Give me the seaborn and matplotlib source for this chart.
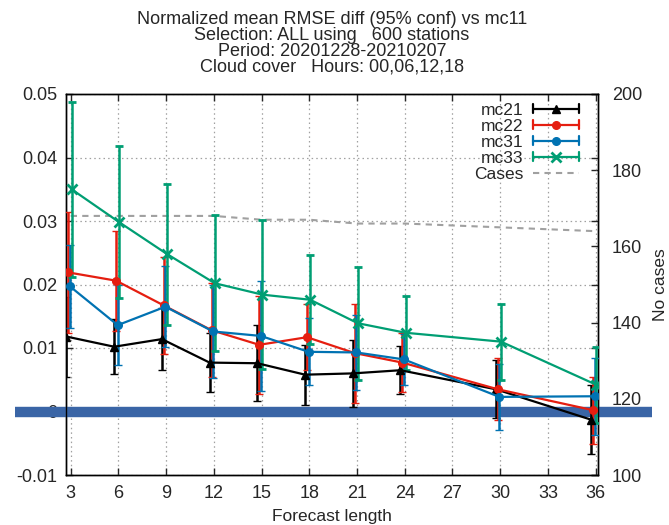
import numpy as np
import pandas as pd
import matplotlib
matplotlib.use("Agg")
import matplotlib.pyplot as plt
import seaborn as sns
from matplotlib.lines import Line2D
from matplotlib.legend_handler import HandlerBase
from matplotlib.container import ErrorbarContainer

# Forecast lead times (hours)
leads = [3, 6, 9, 12, 15, 18, 21, 24, 30, 36]

# Normalized mean RMSE difference vs mc11 and 95% confidence half-widths
mc21_mean = [0.0118, 0.0102, 0.0114, 0.0077, 0.0076, 0.0058, 0.0060, 0.0065, 0.0035, -0.0013]
mc21_conf = [0.0063, 0.0043, 0.0049, 0.0047, 0.0060, 0.0047, 0.0053, 0.0038, 0.0046, 0.0054]

mc22_mean = [0.0219, 0.0206, 0.0167, 0.0128, 0.0105, 0.0117, 0.0092, 0.0077, 0.0035, 0.0002]
mc22_conf = [0.0095, 0.0079, 0.0077, 0.0074, 0.0077, 0.0052, 0.0078, 0.0047, 0.0049, 0.0053]

mc31_mean = [0.0197, 0.0136, 0.0165, 0.0126, 0.0119, 0.0094, 0.0093, 0.0082, 0.0023, 0.0024]
mc31_conf = [0.0065, 0.0063, 0.0064, 0.0074, 0.0087, 0.0053, 0.0059, 0.0040, 0.0052, 0.0061]

mc33_mean = [0.0350, 0.0298, 0.0248, 0.0202, 0.0184, 0.0176, 0.0139, 0.0124, 0.0110, 0.0042]
mc33_conf = [0.0138, 0.0120, 0.0111, 0.0107, 0.0117, 0.0070, 0.0089, 0.0058, 0.0060, 0.0060]

# Number of cases per lead time
cases = [168, 168, 168, 168, 167, 167, 166, 166, 165, 164]

experiments = ["mc21", "mc22", "mc31", "mc33"]
means = [mc21_mean, mc22_mean, mc31_mean, mc33_mean]
confs = [mc21_conf, mc22_conf, mc31_conf, mc33_conf]
colors = ["#000000", "#e51e10", "#0072b2", "#009e73"]
markers = ["^", "o", "o", "x"]
offsets = [-0.27, -0.15, -0.05, 0.05]

xticks = list(range(3, 37, 3))
yticks = [-0.01, 0.0, 0.01, 0.02, 0.03, 0.04, 0.05]
ytick_labels = ["-0.01", "0", "0.01", "0.02", "0.03", "0.04", "0.05"]
y2ticks = [100, 120, 140, 160, 180, 200]

title = ("Normalized mean RMSE diff (95% conf) vs mc11\n"
         "Selection: ALL using   600 stations\n"
         "Period: 20201228-20210207\n"
         "Cloud cover   Hours: 00,06,12,18")

sns.set_style("ticks")
font_list = ["Liberation Sans", "DejaVu Sans"]
plt.rcParams["font.family"] = font_list


class CappedLineHandler(HandlerBase):
    """Legend key: horizontal line with end caps and a centre marker."""

    def create_artists(self, legend, orig_handle, xdescent, ydescent,
                       width, height, fontsize, trans):
        line = orig_handle.lines[0]
        color = line.get_color()
        lw = line.get_linewidth()
        y = height / 2.0 - ydescent
        x0, x1 = -xdescent, width - xdescent
        cap = 3.2
        artists = [
            Line2D([x0, x1], [y, y], color=color, lw=lw),
            Line2D([x0, x0], [y - cap, y + cap], color=color, lw=lw),
            Line2D([x1, x1], [y - cap, y + cap], color=color, lw=lw),
            Line2D([(x0 + x1) / 2.0], [y], color=color, marker=line.get_marker(),
                   markersize=line.get_markersize(), markeredgewidth=line.get_markeredgewidth(),
                   linestyle="none"),
        ]
        for a in artists:
            a.set_transform(trans)
        return artists


fig = plt.figure(figsize=(6.69, 5.25), dpi=100)
ax = fig.add_axes([66 / 669, 50 / 525, 532 / 669, 381 / 525])
ax2 = ax.twinx()

# Cases on the secondary axis
cases_df = pd.DataFrame({"lead": leads, "cases": cases})
sns.lineplot(data=cases_df, x="lead", y="cases", ax=ax2, color="#a0a0a0",
             lw=1.5, linestyle=(0, (3, 2.5)), label="_nolegend_", legend=False)
ax2.set_ylim(100, 200)
ax2.set_yticks(y2ticks)
ax2.set_ylabel("No cases", fontsize=12.5, labelpad=8)
ax2.tick_params(axis="y", direction="in", length=5, labelsize=13, pad=10, width=1)

ax.set_zorder(ax2.get_zorder() + 1)
ax.patch.set_visible(False)

# Zero reference band
ax.plot([-0.096, 1.1015], [0, 0], transform=ax.get_yaxis_transform(),
        color="#3a65a6", lw=7.5, clip_on=False, zorder=1.8, solid_capstyle="butt")

handles = []
for name, m, c, col, mk, off in zip(experiments, means, confs, colors, markers, offsets):
    xs = np.array(leads) + off
    cont = ax.errorbar(xs, m, yerr=c, color=col, marker=mk, markersize=5.5 if mk != "x" else 7,
                       markeredgewidth=2 if mk == "x" else 1, lw=1.6, elinewidth=1.8,
                       capsize=3, capthick=1.6, label=name, zorder=3)
    handles.append(cont)

ax.set_xlim(2.7, 36.15)
ax.set_ylim(-0.01, 0.05)
ax.set_xticks(xticks)
ax.set_yticks(yticks)
ax.set_yticklabels(ytick_labels)
ax.tick_params(axis="both", direction="in", length=5, labelsize=13, width=1,
               top=True, right=True)
ax.tick_params(axis="y", pad=6)
ax.tick_params(axis="x", pad=7)
ax.grid(True, linestyle=(0, (1.2, 2.5)), color="#a0a0a0", lw=0.9)
for sp in list(ax.spines.values()) + list(ax2.spines.values()):
    sp.set_color("black")
    sp.set_linewidth(1.0)

ax.set_xlabel("Forecast length", fontsize=12.5, labelpad=5)
ax.set_title(title, fontsize=13, linespacing=0.93, pad=16)

cases_handle = Line2D([], [], color="#a0a0a0", lw=1.5, linestyle=(0, (3, 2.5)))
leg = ax.legend(handles + [cases_handle], experiments + ["Cases"],
                handler_map={ErrorbarContainer: CappedLineHandler()},
                loc="upper right", bbox_to_anchor=(0.964, 0.977), borderpad=0,
                borderaxespad=0, frameon=False, markerfirst=False, fontsize=12.5,
                handlelength=2.65, handletextpad=0.55, labelspacing=0.05)
for t in leg.get_texts():
    t.set_ha("right")

fig.savefig("out.png", dpi=100)
